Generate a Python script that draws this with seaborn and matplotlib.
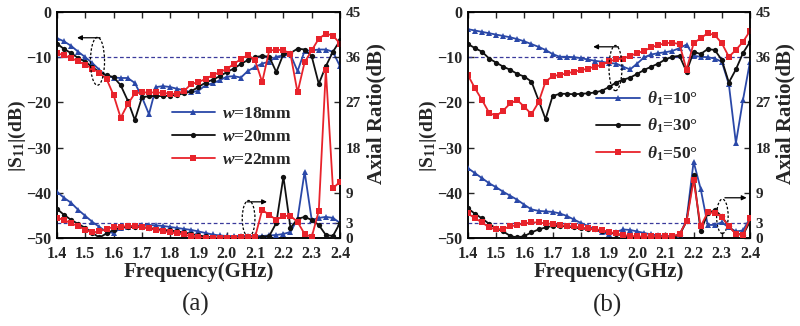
import matplotlib
matplotlib.use("Agg")
import matplotlib.pyplot as plt
from matplotlib.patches import Ellipse
import numpy as np
import pandas as pd
import seaborn as sns

# Frequency grid (GHz)
freq = [1.400, 1.425, 1.450, 1.475, 1.500, 1.525, 1.550, 1.575, 1.600, 1.625,
        1.650, 1.675, 1.700, 1.725, 1.750, 1.775, 1.800, 1.825, 1.850, 1.875,
        1.900, 1.925, 1.950, 1.975, 2.000, 2.025, 2.050, 2.075, 2.100, 2.125,
        2.150, 2.175, 2.200, 2.225, 2.250, 2.275, 2.300, 2.325, 2.350, 2.375,
        2.400]

# (a) slot width sweep: |S11| (dB)
s11_w18 = [-5.8, -6.5, -7.5, -8.8, -10.0, -11.3, -12.8, -14.2, -14.5, -14.6,
           -14.6, -15.7, -18.8, -22.6, -16.6, -16.4, -16.6, -17.0, -17.3, -17.8,
           -17.4, -16.2, -15.8, -15.1, -14.3, -14.2, -14.5, -13.0, -12.2, -11.4,
           -11.0, -9.9, -9.6, -9.4, -13.1, -8.6, -8.5, -8.3, -8.3, -8.8, -12.0]
s11_w20 = [-7.0, -8.2, -9.1, -10.2, -11.0, -12.2, -13.3, -14.0, -14.4, -16.2,
           -19.6, -23.9, -18.9, -18.6, -18.6, -18.6, -18.5, -18.3, -18.0, -17.5,
           -16.6, -15.6, -15.0, -14.2, -13.3, -12.5, -11.5, -10.6, -10.0, -9.7,
           -9.9, -13.3, -9.3, -9.1, -8.1, -8.3, -9.8, -15.9, -12.0, -8.8, -6.3]
s11_w22 = [-9.1, -9.6, -10.2, -10.9, -11.7, -12.5, -13.5, -14.8, -18.4, -23.4,
           -20.4, -18.0, -17.8, -17.8, -17.8, -17.9, -18.1, -18.1, -17.4, -15.9,
           -15.5, -14.8, -14.0, -13.3, -12.6, -11.5, -10.4, -9.5, -10.7, -15.5,
           -8.5, -8.4, -8.4, -9.3, -17.8, -11.1, -8.5, -5.9, -4.8, -5.2, -7.0]

# (a) slot width sweep: axial ratio (dB)
ar_w18 = [9.2, 8.0, 7.0, 5.6, 4.4, 3.2, 2.2, 1.2, 1.0, 2.0,
          2.2, 2.3, 2.6, 2.6, 2.5, 2.4, 2.2, 2.0, 1.8, 1.6,
          1.3, 1.0, 0.7, 0.5, 0.4, 0.4, 0.4, 0.4, 0.4, 0.4,
          0.5, 0.6, 0.8, 1.2, 3.8, 13.2, 3.6, 4.0, 4.2, 4.0, 3.0]
ar_w20 = [5.8, 4.6, 3.6, 2.8, 2.0, 1.0, 0.1, 0.9, 1.6, 2.1,
          2.2, 2.2, 2.2, 2.0, 1.8, 1.6, 1.5, 1.3, 1.1, 0.8,
          0.5, 0.3, 0.1, 0.1, 0.1, 0.1, 0.1, 0.1, 0.1, 0.2,
          0.4, 3.0, 12.2, 2.0, 3.8, 4.2, 3.6, 2.6, 0.6, 0.4, 3.0]
ar_w22 = [4.0, 3.6, 2.9, 2.4, 1.6, 1.1, 1.3, 1.8, 2.2, 2.2,
          2.4, 2.4, 2.1, 1.9, 1.6, 1.4, 1.1, 0.9, 0.7, 0.3,
          0.1, 0.0, 0.0, 0.0, 0.0, 0.0, 0.1, 0.1, 0.2, 5.6,
          4.6, 3.6, 4.4, 4.4, 3.2, 0.8, 0.2, 5.4, 33.5, 9.9, 11.2]

# (b) incidence angle sweep: |S11| (dB)
s11_t10 = [-3.8, -4.1, -4.4, -4.7, -5.0, -5.3, -5.6, -6.0, -6.5, -7.1,
           -7.7, -8.4, -9.3, -9.9, -9.9, -10.0, -10.2, -10.5, -10.8, -11.0,
           -11.3, -11.4, -12.1, -12.7, -11.4, -10.0, -9.4, -9.1, -8.9, -8.6,
           -8.0, -7.2, -9.7, -9.9, -10.0, -10.3, -11.0, -16.0, -29.0, -19.5, -11.0]
s11_t30 = [-7.1, -8.0, -8.8, -10.3, -11.2, -12.1, -12.8, -13.7, -14.3, -15.4,
           -19.5, -23.7, -18.6, -18.1, -18.1, -18.2, -18.1, -18.0, -17.8, -17.4,
           -16.6, -15.6, -15.0, -14.5, -13.7, -12.8, -12.1, -11.4, -10.5, -9.9,
           -9.7, -13.2, -8.8, -9.3, -8.2, -8.4, -10.6, -15.6, -12.7, -9.1, -6.6]
s11_t50 = [-14.0, -16.9, -19.5, -22.3, -23.0, -21.8, -20.2, -19.5, -21.0, -22.6,
           -20.0, -15.4, -14.2, -13.9, -13.6, -13.2, -12.9, -12.5, -12.1, -11.7,
           -10.9, -10.5, -10.3, -9.7, -9.1, -8.6, -7.8, -7.3, -6.9, -6.8,
           -7.1, -12.8, -6.9, -5.8, -4.7, -5.1, -6.9, -9.9, -8.4, -6.6, -4.2]

# (b) incidence angle sweep: axial ratio (dB)
ar_t10 = [13.9, 12.9, 11.9, 10.9, 10.1, 9.2, 8.4, 7.6, 6.6, 5.7,
          5.4, 5.3, 5.2, 4.9, 4.4, 3.7, 3.0, 2.4, 1.7, 1.1,
          0.7, 1.2, 1.7, 1.6, 1.3, 1.0, 0.7, 0.5, 0.4, 0.4,
          0.6, 3.6, 15.2, 9.8, 2.6, 2.6, 3.1, 2.1, 1.3, 1.5, 3.9]
ar_t30 = [5.9, 4.8, 3.9, 2.8, 1.9, 1.3, 0.4, 0.1, 0.4, 1.1,
          1.7, 2.1, 2.4, 2.4, 2.3, 2.1, 1.9, 1.8, 1.7, 1.4,
          1.1, 0.8, 0.5, 0.3, 0.2, 0.2, 0.2, 0.2, 0.2, 0.2,
          0.6, 3.3, 12.5, 1.3, 4.9, 5.6, 4.3, 2.3, 0.9, 0.6, 3.3]
ar_t50 = [4.9, 3.9, 3.1, 2.1, 1.7, 1.8, 2.3, 2.6, 2.9, 3.1,
          3.1, 2.9, 2.8, 2.6, 2.4, 2.3, 2.1, 1.9, 1.7, 1.6,
          1.2, 0.9, 0.6, 0.4, 0.3, 0.3, 0.3, 0.3, 0.3, 0.3,
          0.8, 3.3, 11.5, 2.3, 5.1, 5.0, 4.2, 2.3, 0.8, 0.6, 3.9]

labels_a = ["$w$=18mm", "$w$=20mm", "$w$=22mm"]
labels_b = [r"$\theta_{\mathit{1}}$=10°", r"$\theta_{\mathit{1}}$=30°", r"$\theta_{\mathit{1}}$=50°"]

x_ticks = [1.4, 1.5, 1.6, 1.7, 1.8, 1.9, 2.0, 2.1, 2.2, 2.3, 2.4]
s11_ticks = [0, -10, -20, -30, -40, -50]
ar_ticks = [0, 3, 9, 18, 27, 36, 45]

colors = ["#2a48a8", "#111111", "#e8232b"]
markers = ["^", "o", "s"]
msizes = [4.2, 3.8, 3.8]
ref_color = "#3a3a9c"

sns.set_theme(style="ticks")
plt.rcParams["font.family"] = ["Liberation Serif", "DejaVu Serif"]
plt.rcParams["font.weight"] = "bold"
plt.rcParams["mathtext.fontset"] = "custom"
plt.rcParams["mathtext.it"] = "Liberation Serif:italic:bold"
plt.rcParams["mathtext.rm"] = "Liberation Serif:bold"
plt.rcParams["mathtext.bf"] = "Liberation Serif:bold"

fig = plt.figure(figsize=(8.0, 3.26), dpi=100)
W, H = 800.0, 326.0
ax_a = fig.add_axes([57 / W, 1 - 238 / H, 283 / W, 226 / H])
ax_b = fig.add_axes([468 / W, 1 - 238 / H, 282 / W, 226 / H])


def draw_panel(ax, s11_list, ar_list, labels, leg_anchor, leg_spacing,
               left_ell, right_ell, left_lab_x, right_lab_x):
    ax2 = ax.twinx()
    for i, (s, a) in enumerate(zip(s11_list, ar_list)):
        sns.lineplot(x=freq, y=s, ax=ax, color=colors[i], marker=markers[i],
                     markersize=msizes[i], markeredgewidth=0, linewidth=1.3,
                     label=labels[i], zorder=3)
        sns.lineplot(x=freq, y=a, ax=ax2, color=colors[i], marker=markers[i],
                     markersize=msizes[i], markeredgewidth=0, linewidth=1.3,
                     zorder=3)
    # -10 dB and 3 dB reference levels
    ax.axhline(-10, color=ref_color, lw=0.9, ls=(0, (3, 2)), zorder=1)
    ax2.axhline(3, color=ref_color, lw=0.9, ls=(0, (3, 2)), zorder=1)

    ax.set_xlim(1.4, 2.4)
    ax.set_ylim(-50, 0)
    ax2.set_ylim(0, 45)
    ax.set_xticks(x_ticks)
    ax.set_xticklabels([f"{t:.1f}" for t in x_ticks])
    ax.set_yticks(s11_ticks)
    ax2.set_yticks(ar_ticks)
    ax.tick_params(axis="both", direction="in", length=4, width=1.0,
                   labelsize=11.5, top=True, pad=4)
    ax.tick_params(axis="x", pad=5.5)
    ax2.tick_params(axis="y", direction="in", length=4, width=1.0,
                    labelsize=11, pad=4)
    for sp in list(ax.spines.values()) + list(ax2.spines.values()):
        sp.set_linewidth(1.1)
        sp.set_color("black")

    ax.set_xlabel("Frequency(GHz)", fontsize=15, fontweight="bold", labelpad=0)
    ax.set_ylabel("|S$_{11}$|(dB)", fontsize=14, fontweight="bold")
    ax.yaxis.set_label_coords(left_lab_x, 0.45)
    ax2.set_ylabel("Axial Ratio(dB)", fontsize=15, fontweight="bold")
    ax2.yaxis.set_label_coords(right_lab_x, 0.55)

    # ellipse + arrow markers pointing to the relevant axis
    for (cx, cy, w, h, x0, x1, ay) in (left_ell, right_ell):
        ax.add_patch(Ellipse((cx, cy), w, h, fill=False, ec="black", lw=0.9,
                             ls=(0, (2, 1.5)), zorder=4))
        ax.annotate("", xy=(x1, ay), xytext=(x0, ay),
                    arrowprops=dict(arrowstyle="-|>", color="black", lw=0.9,
                                    mutation_scale=7, shrinkA=0, shrinkB=0))

    leg = ax.legend(loc="upper left", bbox_to_anchor=leg_anchor, frameon=False,
                    fontsize=12.5, handlelength=2.5, handletextpad=0.4,
                    labelspacing=leg_spacing, borderpad=0, borderaxespad=0)
    for t in leg.get_texts():
        t.set_fontweight("bold")
    return ax2


draw_panel(ax_a, [s11_w18, s11_w20, s11_w22], [ar_w18, ar_w20, ar_w22],
           labels_a, (0.405, 0.585), 0.4,
           (1.543, -10.9, 0.05, 10.6, 1.552, 1.471, -5.7),
           (2.077, -45.7, 0.045, 8.0, 2.071, 2.142, -42.0),
           (28 - 57) / 283, (366 - 57) / 283)
draw_panel(ax_b, [s11_t10, s11_t30, s11_t50], [ar_t10, ar_t30, ar_t50],
           labels_b, (0.455, 0.655), 0.5,
           (1.923, -12.4, 0.046, 10.0, 1.933, 1.844, -7.7),
           (2.302, -45.2, 0.041, 7.6, 2.311, 2.388, -41.1),
           (439 - 468) / 282, (775 - 468) / 282)

fig.text(196 / W, 1 - 304 / H, "(a)", ha="center", va="center",
         fontsize=18, fontweight="normal")
fig.text(607 / W, 1 - 305 / H, "(b)", ha="center", va="center",
         fontsize=18, fontweight="normal")

fig.savefig("out.png", dpi=100)
